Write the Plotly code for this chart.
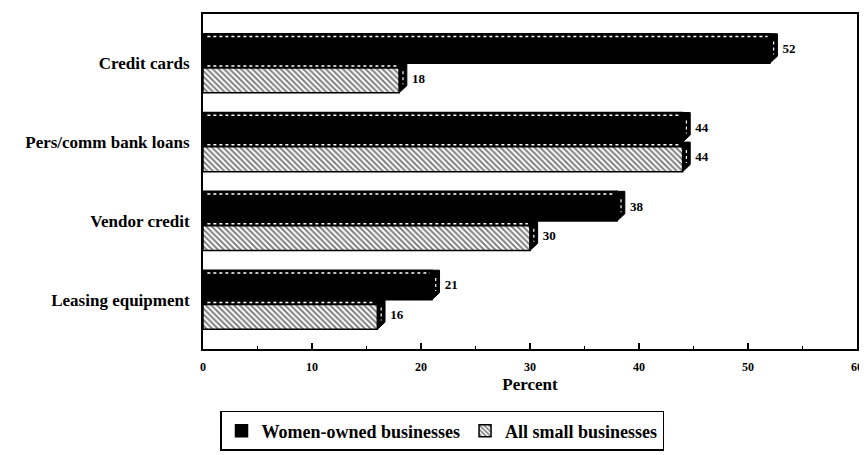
import plotly.graph_objects as go

categories = ["Credit cards", "Pers/comm bank loans", "Vendor credit", "Leasing equipment"]
women_owned = [52, 44, 38, 21]
all_small = [18, 44, 30, 16]
series_names = ["Women-owned businesses", "All small businesses"]
x_ticks = [0, 10, 20, 30, 40, 50, 60]

FONT = "Liberation Serif, Times New Roman, serif"
fig = go.Figure()

fig.add_trace(go.Bar(
    y=categories, x=women_owned, orientation="h", name=series_names[0],
    marker=dict(color="black", line=dict(color="black", width=1.5)),
    texttemplate="   %{x}", textposition="outside",
    textfont=dict(family=FONT, size=13, color="black", weight="bold"),
    cliponaxis=False,
))
fig.add_trace(go.Bar(
    y=categories, x=all_small, orientation="h", name=series_names[1],
    marker=dict(color="white", line=dict(color="black", width=1.5),
                pattern=dict(shape="\\", fgcolor="black", bgcolor="white", size=4, solidity=0.5)),
    texttemplate="   %{x}", textposition="outside",
    textfont=dict(family=FONT, size=13, color="black", weight="bold"),
    cliponaxis=False,
))

# pseudo-3D top/right faces derived from the data values
bargap = 0.25
w = (1 - bargap) / 2
d = 0.7    # depth in x units
dd = 0.09  # depth in category units
band = 0.07
shapes = []
for i, cat in enumerate(categories):
    for k, vals in enumerate([women_owned, all_small]):
        v = vals[i]
        top = i - (1 - bargap) / 2 + k * w
        bottom = top + w
        # top face band
        shapes.append(dict(type="rect", xref="x", yref="y", x0=0, x1=v, y0=top, y1=top + band,
                           fillcolor="black", line=dict(width=0), layer="above"))
        shapes.append(dict(type="line", xref="x", yref="y", x0=0.4, x1=v - 0.2,
                           y0=top + band / 2, y1=top + band / 2,
                           line=dict(color="white", width=1.5, dash="dot"), layer="above"))
        # right face
        path = f"M {v},{top} L {v + d},{top} L {v + d},{bottom - dd} L {v},{bottom} Z"
        shapes.append(dict(type="path", xref="x", yref="y", path=path,
                           fillcolor="black", line=dict(color="black", width=1), layer="above"))
        shapes.append(dict(type="line", xref="x", yref="y", x0=v + d / 2, x1=v + d / 2,
                           y0=top + band + 0.03, y1=bottom - dd - 0.02,
                           line=dict(color="white", width=1.2, dash="dot"), layer="above"))

fig.update_layout(
    width=859, height=447,
    margin=dict(l=195, r=5, t=4, b=103),
    paper_bgcolor="white", plot_bgcolor="white",
    barmode="group", bargap=bargap, bargroupgap=0,
    font=dict(family=FONT, color="black"),
    shapes=shapes,
    legend=dict(orientation="h", x=0.026, xanchor="left", y=-0.185, yanchor="top",
                bordercolor="black", borderwidth=1.5,
                font=dict(family=FONT, size=18, color="black", weight="bold"),
                itemwidth=30, tracegroupgap=0),
    xaxis=dict(range=[0, 60], tickvals=x_ticks, ticktext=[str(t) for t in x_ticks],
               ticks="inside", ticklen=6, tickwidth=1.5, tickcolor="black",
               minor=dict(dtick=5, ticks="inside", ticklen=3, tickwidth=1, tickcolor="black", showgrid=False),
               showline=True, linecolor="black", linewidth=2, mirror=True,
               showgrid=False, zeroline=False, ticklabelstandoff=6,
               tickfont=dict(family=FONT, size=12, color="black", weight="bold"),
               title=dict(text="Percent", standoff=5,
                          font=dict(family=FONT, size=17, color="black", weight="bold"))),
    yaxis=dict(categoryorder="array", categoryarray=categories,
               range=[3.625, -0.625], ticks="", showline=True, linecolor="black",
               linewidth=2, mirror=True, showgrid=False, zeroline=False, ticklabelstandoff=8,
               tickfont=dict(family=FONT, size=17, color="black", weight="bold")),
)

fig.write_html("out.html")
